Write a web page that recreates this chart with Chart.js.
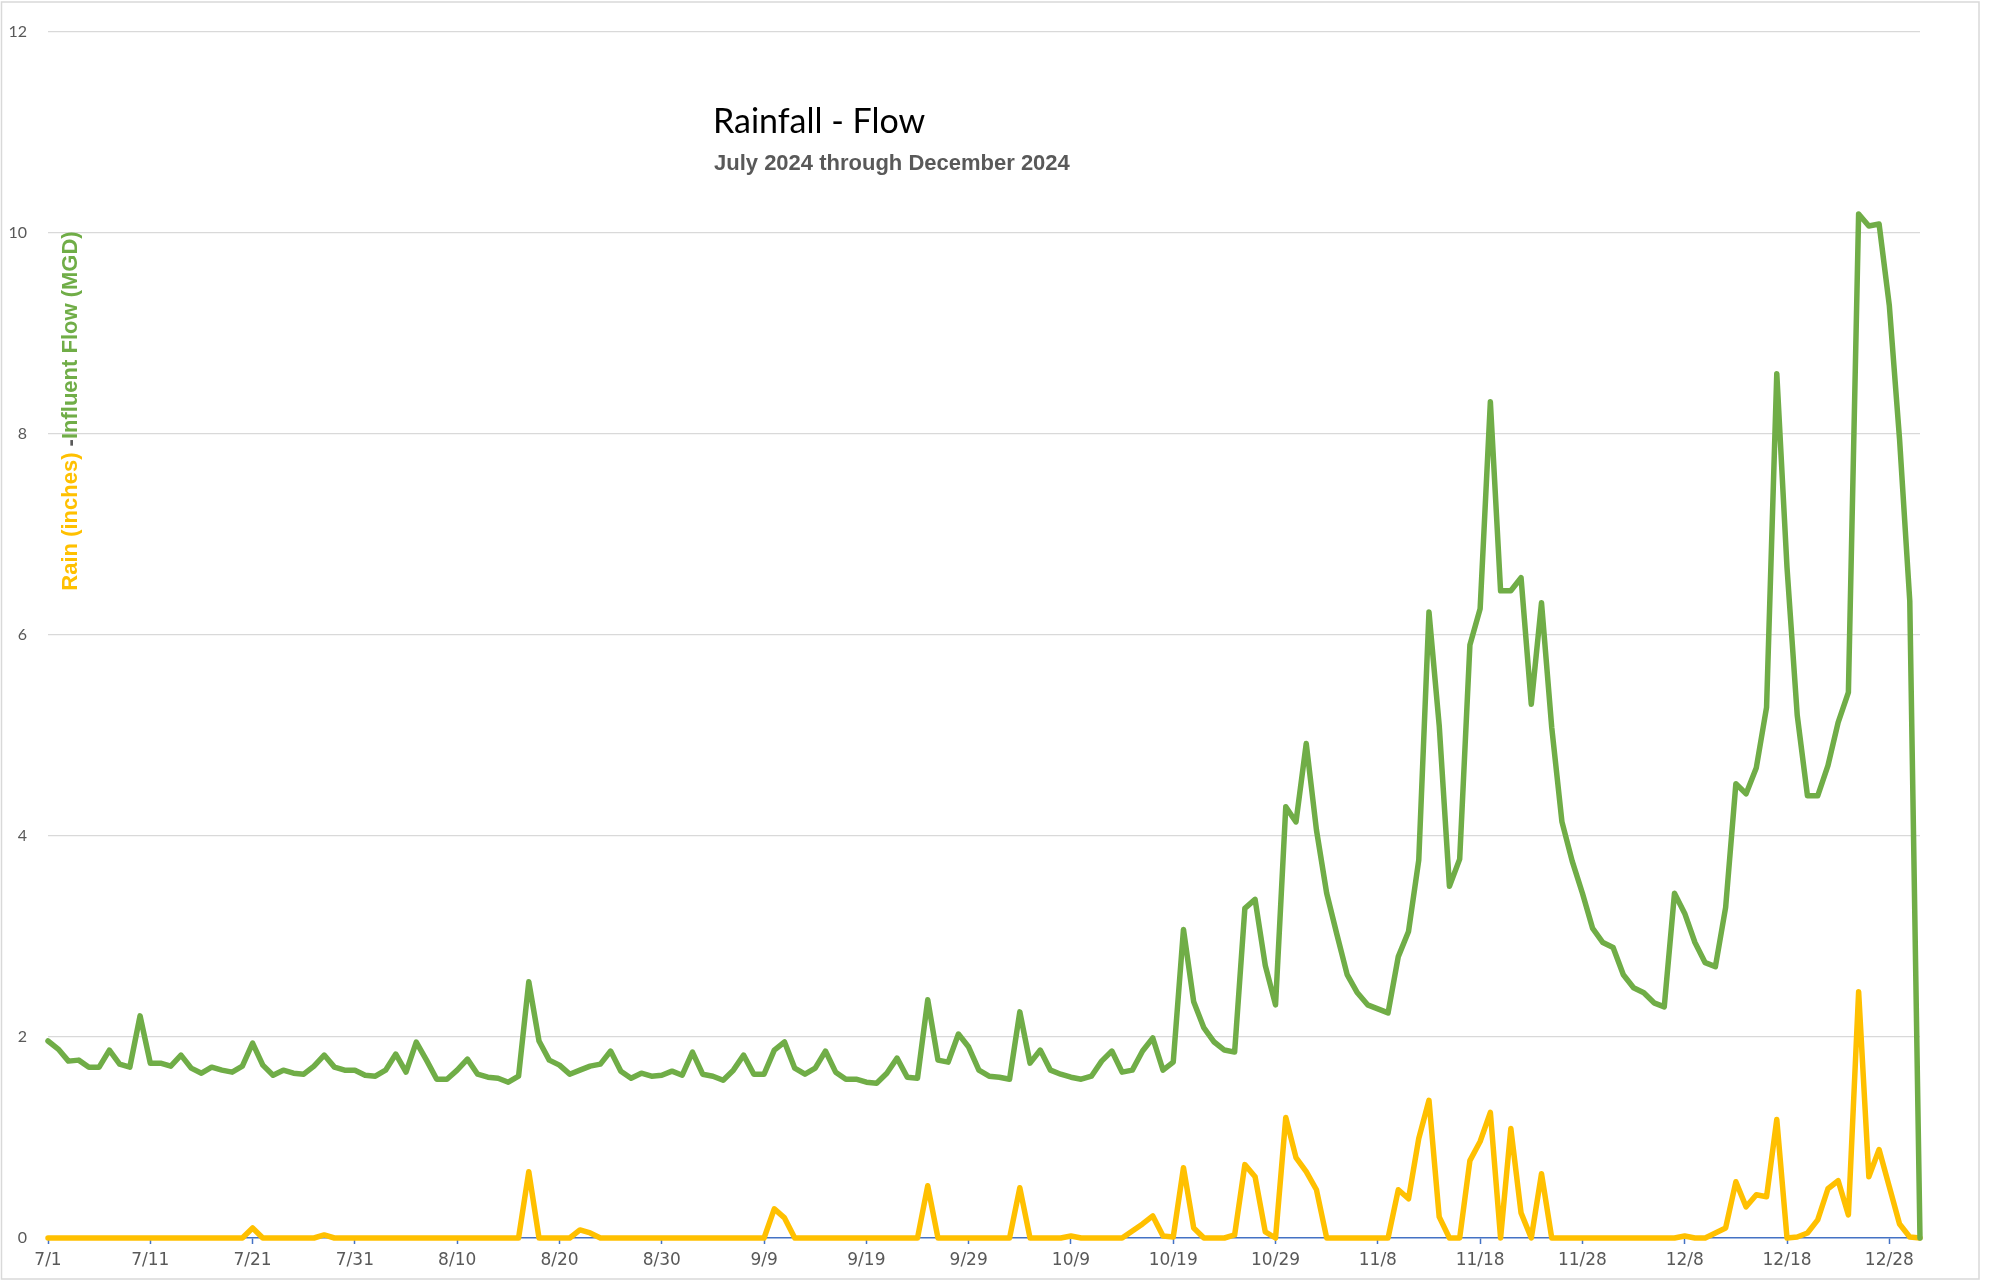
<!DOCTYPE html>
<html>
<head>
<meta charset="utf-8">
<title>Rainfall - Flow</title>
<script src="https://cdn.jsdelivr.net/npm/chart.js@4.4.1/dist/chart.umd.min.js"></script>
<style>
    body { margin: 0; background: #ffffff; }
    canvas { display: block; }
</style>
</head>
<body>
<canvas id="myChart" width="1996" height="1283"></canvas>
<script>
// daily values, 7/1/2024 .. 12/31/2024
var monthNames = [7, 8, 9, 10, 11, 12];
var monthDays = [31, 31, 30, 31, 30, 31];

var flowValues = [
    1.96, 1.88, 1.76, 1.77, 1.70, 1.70, 1.87, 1.73, 1.70, 2.21,
    1.74, 1.74, 1.71, 1.82, 1.69, 1.64, 1.70, 1.67, 1.65, 1.71,
    1.94, 1.72, 1.62, 1.67, 1.64, 1.63, 1.71, 1.82, 1.70, 1.67,
    1.67, 1.62, 1.61, 1.67, 1.83, 1.65, 1.95, 1.77, 1.58, 1.58,
    1.67, 1.78, 1.63, 1.60, 1.59, 1.55, 1.61, 2.55, 1.96, 1.77,
    1.72, 1.63, 1.67, 1.71, 1.73, 1.86, 1.66, 1.59, 1.64, 1.61,
    1.62, 1.66, 1.62, 1.85, 1.63, 1.61, 1.57, 1.67, 1.82, 1.63,
    1.63, 1.87, 1.95, 1.69, 1.63, 1.69, 1.86, 1.65, 1.58, 1.58,
    1.55, 1.54, 1.64, 1.79, 1.60, 1.59, 2.37, 1.77, 1.75, 2.03,
    1.90, 1.67, 1.61, 1.60, 1.58, 2.25, 1.74, 1.87, 1.67, 1.63,
    1.60, 1.58, 1.61, 1.76, 1.86, 1.65, 1.67, 1.86, 1.99, 1.67,
    1.75, 3.07, 2.35, 2.09, 1.95, 1.87, 1.85, 3.28, 3.37, 2.71,
    2.32, 4.29, 4.14, 4.92, 4.06, 3.43, 3.02, 2.62, 2.44, 2.32,
    2.28, 2.24, 2.80, 3.05, 3.76, 6.23, 5.10, 3.50, 3.77, 5.90,
    6.26, 8.32, 6.44, 6.44, 6.57, 5.31, 6.32, 5.08, 4.14, 3.75,
    3.43, 3.08, 2.94, 2.89, 2.62, 2.49, 2.44, 2.34, 2.30, 3.43,
    3.23, 2.94, 2.74, 2.70, 3.29, 4.52, 4.42, 4.68, 5.28, 8.60,
    6.67, 5.20, 4.40, 4.40, 4.70, 5.13, 5.43, 10.19, 10.07, 10.09,
    9.28, 7.95, 6.34, 0
];

var rainValues = [
    0, 0, 0, 0, 0, 0, 0, 0, 0, 0,
    0, 0, 0, 0, 0, 0, 0, 0, 0, 0,
    0.10, 0, 0, 0, 0, 0, 0, 0.03, 0, 0,
    0, 0, 0, 0, 0, 0, 0, 0, 0, 0,
    0, 0, 0, 0, 0, 0, 0, 0.66, 0, 0,
    0, 0, 0.08, 0.05, 0, 0, 0, 0, 0, 0,
    0, 0, 0, 0, 0, 0, 0, 0, 0, 0,
    0, 0.29, 0.20, 0, 0, 0, 0, 0, 0, 0,
    0, 0, 0, 0, 0, 0, 0.52, 0, 0, 0,
    0, 0, 0, 0, 0, 0.50, 0, 0, 0, 0,
    0.02, 0, 0, 0, 0, 0, 0.07, 0.14, 0.22, 0.02,
    0.01, 0.70, 0.10, 0, 0, 0, 0.03, 0.73, 0.61, 0.06,
    0, 1.20, 0.80, 0.66, 0.48, 0, 0, 0, 0, 0,
    0, 0, 0.48, 0.39, 0.99, 1.37, 0.21, 0, 0, 0.77,
    0.96, 1.25, 0, 1.09, 0.25, 0, 0.64, 0, 0, 0,
    0, 0, 0, 0, 0, 0, 0, 0, 0, 0,
    0.02, 0, 0, 0.05, 0.10, 0.56, 0.31, 0.43, 0.41, 1.18,
    0, 0.01, 0.05, 0.18, 0.49, 0.57, 0.23, 2.45, 0.61, 0.88,
    0.51, 0.14, 0.01, 0
];

var yTicks = [0, 2, 4, 6, 8, 10, 12];

var labels = [];
for (var m = 0; m < monthNames.length; m++) {
    for (var d = 1; d <= monthDays[m]; d++) {
        labels.push(monthNames[m] + "/" + d);
    }
}

const green = "#70AD47";
const gold = "#FFC000";
const grey = "#595959";

// titles and the coloured axis title sit inside the plot, so draw them by hand
const textPlugin = {
    id: "texts",
    afterDraw(chart) {
        const ctx = chart.ctx;
        ctx.save();

        // chart border
        ctx.strokeStyle = "#D9D9D9";
        ctx.lineWidth = 1.5;
        ctx.strokeRect(1.5, 2, 1977.5, 1277);

        ctx.textAlign = "left";
        ctx.textBaseline = "alphabetic";
        ctx.fillStyle = "#000000";
        ctx.font = "34px Lato";
        ctx.fillText("Rainfall - Flow", 713, 133);

        ctx.fillStyle = grey;
        ctx.font = "bold 22px 'Liberation Sans'";
        ctx.fillText("July 2024 through December 2024", 714, 170);

        // rotated y title in three colours
        ctx.translate(71, 411);
        ctx.rotate(-Math.PI / 2);
        ctx.font = "bold 22px 'Liberation Sans'";
        ctx.textBaseline = "middle";
        var parts = [
            ["Rain (inches)", gold],
            [" -", grey],
            ["Influent Flow (MGD)", green],
        ];
        var total = 0;
        parts.forEach(function (p) {
            total += ctx.measureText(p[0]).width;
        });
        var x = -total / 2;
        parts.forEach(function (p) {
            ctx.fillStyle = p[1];
            ctx.fillText(p[0], x, 0);
            x += ctx.measureText(p[0]).width;
        });
        ctx.restore();
    },
};

new Chart(document.getElementById("myChart"), {
    type: "line",
    data: {
        labels: labels,
        datasets: [
            {
                label: "Influent Flow (MGD)",
                data: flowValues,
                borderColor: green,
                backgroundColor: green,
                borderWidth: 5.5,
                pointRadius: 0,
                tension: 0,
                borderJoinStyle: "round",
                borderCapStyle: "round",
                clip: false,
            },
            {
                label: "Rain (inches)",
                data: rainValues,
                borderColor: gold,
                backgroundColor: gold,
                borderWidth: 5.5,
                pointRadius: 0,
                tension: 0,
                borderJoinStyle: "round",
                borderCapStyle: "round",
                clip: false,
            },
        ],
    },
    options: {
        responsive: false,
        animation: false,
        events: [],
        layout: {
            padding: { left: 0, right: 76, top: 32, bottom: 0 },
        },
        plugins: {
            legend: { display: false },
            tooltip: { enabled: false },
            title: { display: false },
        },
        scales: {
            x: {
                type: "category",
                offset: false,
                afterFit: function (scale) {
                    scale.height = 45;
                },
                afterBuildTicks: function (scale) {
                    scale.ticks = scale.ticks.filter(function (t) {
                        return t.value % 10 === 0;
                    });
                },
                ticks: {
                    autoSkip: false,
                    maxRotation: 0,
                    padding: 6,
                    color: grey,
                    font: { family: "DejaVu Sans", size: 17 },
                },
                grid: {
                    drawOnChartArea: false,
                    drawTicks: true,
                    tickLength: 6,
                    tickColor: "#4472C4",
                    tickWidth: 1.5,
                },
                border: { display: true, color: "#4472C4", width: 1.5 },
            },
            y: {
                min: 0,
                max: 12,
                afterFit: function (scale) {
                    scale.width = 48;
                },
                afterBuildTicks: function (scale) {
                    scale.ticks = yTicks.map(function (v) {
                        return { value: v };
                    });
                },
                ticks: {
                    padding: 21,
                    color: grey,
                    font: { family: "Lato", size: 16 },
                },
                grid: {
                    drawTicks: false,
                    lineWidth: 1.3,
                    color: function (c) {
                        return c.tick && c.tick.value === 0 ? "rgba(0,0,0,0)" : "#D9D9D9";
                    },
                },
                border: { display: false },
            },
        },
    },
    plugins: [textPlugin],
});
</script>
</body>
</html>
